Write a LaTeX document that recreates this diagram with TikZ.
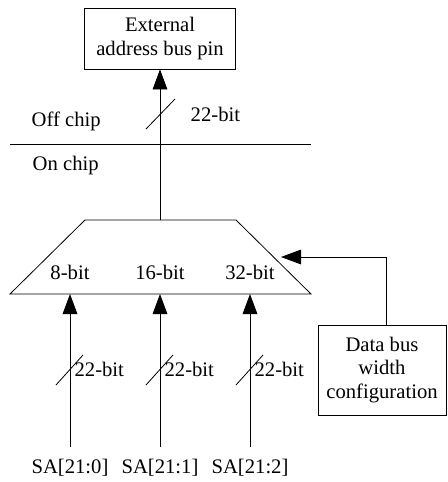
\documentclass[tikz,border=0pt]{standalone}
\usepackage{fontspec}
\setmainfont{Liberation Serif}
\usetikzlibrary{arrows.meta,calc}

\begin{document}
\begin{tikzpicture}[x=0.75pt,y=-0.75pt,
  every node/.style={font=\fontsize{15.5}{17.6}\selectfont},
  blk/.style={draw,line width=0.6pt,align=center,inner sep=0pt},
  bus/.style={line width=0.6pt,-{Triangle[length=15pt,width=11pt]}},
  wire/.style={line width=0.6pt}]
\useasboundingbox (0,0) rectangle (447,482);

% Pin and config boxes
\node[blk,minimum width=113pt,minimum height=45.75pt] (pin) at (160,38.5) {External\\address bus pin};
\node[blk,minimum width=96pt,minimum height=67.5pt] (cfg) at (382,370) {Data bus\\width\\configuration};

% Chip boundary
\draw[wire] (10,144) -- (311,144);
\node[anchor=west] (off) at (27,121) {Off chip};
\node[anchor=west] (on) at (28,166) {On chip};

% Mux
\coordinate (mtop) at (160,220);
\draw[wire] (85,220) -- (236,220) -- (311,294) -- (10,294) -- cycle;
\node (w8) at (70,272) {8-bit};
\node (w16) at (160,272) {16-bit};
\node (w32) at (250,272) {32-bit};

% Output to the pin
\draw[bus] (mtop) -- (pin.south);
\draw[wire] (146,129) -- (175,99);
\node[anchor=west] (outw) at (186,114) {22-bit};

% Inputs
\foreach \i/\x in {0/70,1/160,2/250} {
  \coordinate (in\i) at (\x,294);
  \node[inner sep=0pt] (sa\i) at (\x,468) {SA[21:\i]};
  \draw[bus,shorten <=9.5pt] (sa\i.north) -- (in\i);
  \draw[wire] (\x-14,385) -- (\x+13,355);
  \node[anchor=west,inner sep=1pt] (inw\i) at (\x+3,369) {22-bit};
}

% Width select
\coordinate (sel) at (281,257);
\draw[bus] ([xshift=3pt]cfg.north) |- (sel);
\end{tikzpicture}
\end{document}
